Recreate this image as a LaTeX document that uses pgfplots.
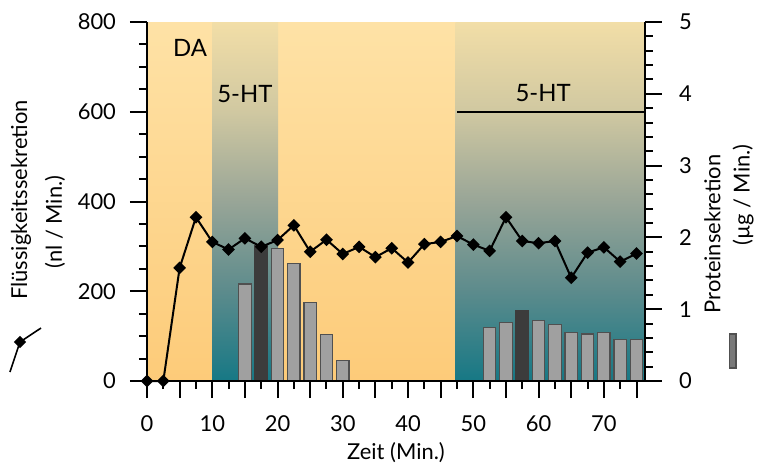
\documentclass[border=0pt]{standalone}
\usepackage{pgfplots}
\pgfplotsset{compat=1.18}
\usepackage{fontspec}
\setmainfont{Lato}
\definecolor{orTop}{RGB}{254,226,166}
\definecolor{orBot}{RGB}{253,203,121}
\definecolor{tlTop}{RGB}{242,222,167}
\definecolor{tlQ1}{RGB}{208,200,161}
\definecolor{tlMid}{RGB}{152,165,151}
\definecolor{tlQ3}{RGB}{92,139,140}
\definecolor{tlBot}{RGB}{22,120,133}
\definecolor{barG}{RGB}{160,160,160}
\definecolor{barD}{RGB}{60,60,60}
\definecolor{barE}{RGB}{80,80,80}
\pgfdeclareverticalshading{tealsh}{100bp}{color(0bp)=(tlBot); color(25bp)=(tlBot); color(37.5bp)=(tlQ3); color(50bp)=(tlMid); color(62.5bp)=(tlQ1); color(75bp)=(tlTop); color(100bp)=(tlTop)}

\pgfplotstableread{
x y
0 0
2.5 0
5 252
7.5 365
10 310
12.5 293
15 318
17.5 299
20 314
22.5 347
25 288
27.5 315
30 283
32.5 299
35 276
37.5 296
40 264
42.5 305
45 310
47.5 323
50 304
52.5 290
55 365
57.5 312
60 307
62.5 312
65 230
67.5 286
70 298
72.5 266
75 284
}\flowdata

\begin{document}
\begin{tikzpicture}
\useasboundingbox (-73.5bp,-42.5bp) rectangle (305bp,190.5bp);
\pgfplotsset{
  common/.style={
    scale only axis, width=249bp, height=179.5bp,
    xmin=0, xmax=76.3,
    tick align=outside,
    major tick length=8.5bp, minor tick length=4bp,
    every tick/.style={black, line width=1bp},
    axis line style={line width=1bp},
    /pgf/number format/assume math mode=true,
    ticklabel style={font=\fontsize{11}{13}\selectfont},
    clip=false,
  }
}
% right axis: background and bars
\begin{axis}[common,
  axis x line=none, axis y line*=right,
  ymin=0, ymax=5, ytick={0,1,2,3,4,5}, minor y tick num=4,
  yticklabel style={xshift=5bp},
  axis on top,
]
\addplot[draw=none, top color=orTop, bottom color=orBot] coordinates {(0,0) (0,5) (76.3,5) (76.3,0)};
\addplot[draw=none, shade, shading=tealsh] coordinates {(10,0) (10,5) (20.1,5) (20.1,0)};
\addplot[draw=none, shade, shading=tealsh] coordinates {(47.3,0) (47.3,5) (76.3,5) (76.3,0)};
\addplot[ybar, bar width=1.9, bar shift=0pt, fill=barG, draw=barE, line width=0.6bp] coordinates {
(15,1.35) (20,1.84) (22.5,1.64) (25,1.09) (27.5,0.65) (30,0.29)
(52.5,0.75) (55,0.82) (60,0.845) (62.5,0.79) (65,0.68) (67.5,0.655) (70,0.68) (72.5,0.58) (75,0.58)};
\addplot[ybar, bar width=1.9, bar shift=0pt, fill=barD, draw=barD, line width=0.6bp] coordinates {
(17.5,1.89) (57.5,0.975)};
% legend symbol for bars
\addplot[fill=gray!95!black, draw=barE, line width=0.6bp] coordinates {(89.2,0.181) (89.2,0.655) (90.25,0.655) (90.25,0.181) (89.2,0.181)};
\end{axis}
% left axis: line
\begin{axis}[common,
  axis x line*=bottom, axis y line*=left,
  ymin=0, ymax=800, ytick={0,200,400,600,800}, minor y tick num=3,
  yticklabel style={xshift=-3.5bp},
  xtick={0,5,...,75}, xticklabels={0,,10,,20,,30,,40,,50,,60,,70,},
  xticklabel style={yshift=-5.5bp},
  minor xtick={2.5,7.5,...,72.5},
]
\addplot[black, line width=1bp, mark=square*, mark size=1.75bp, mark options={rotate=45, solid}] table[x=x,y=y] {\flowdata};
\addplot[black, line width=1bp] coordinates {(47.5,600) (76.3,600)};
% legend symbol for line
\addplot[black, line width=0.8bp, mark=square*, mark size=1.75bp, mark options={rotate=45}, mark indices={2}] coordinates {(-21.0,20) (-19.46,87) (-16.24,118)};
\node[font=\fontsize{12}{14}\selectfont] at (axis cs:6.6,742) {DA};
\node[font=\fontsize{12}{14}\selectfont] at (axis cs:15,639) {5-HT};
\node[font=\fontsize{12}{14}\selectfont] at (axis cs:60.7,642) {5-HT};
\end{axis}
\node[rotate=90, font=\fontsize{11}{13}\selectfont] at (-63bp,90.5bp) {Flüssigkeitssekretion};
\node[rotate=90, font=\fontsize{11}{13}\selectfont] at (-46bp,79.5bp) {(nl / Min.)};
\node[rotate=90, font=\fontsize{11}{13}\selectfont] at (282.7bp,73.5bp) {Proteinsekretion};
\node[rotate=90, inner sep=0pt, font=\fontsize{11}{13}\selectfont] at (298bp,93bp) {(µg / Min.)};
\node[inner sep=0pt, font=\fontsize{11}{13}\selectfont] at (124.5bp,-36bp) {Zeit (Min.)};
\end{tikzpicture}
\end{document}
